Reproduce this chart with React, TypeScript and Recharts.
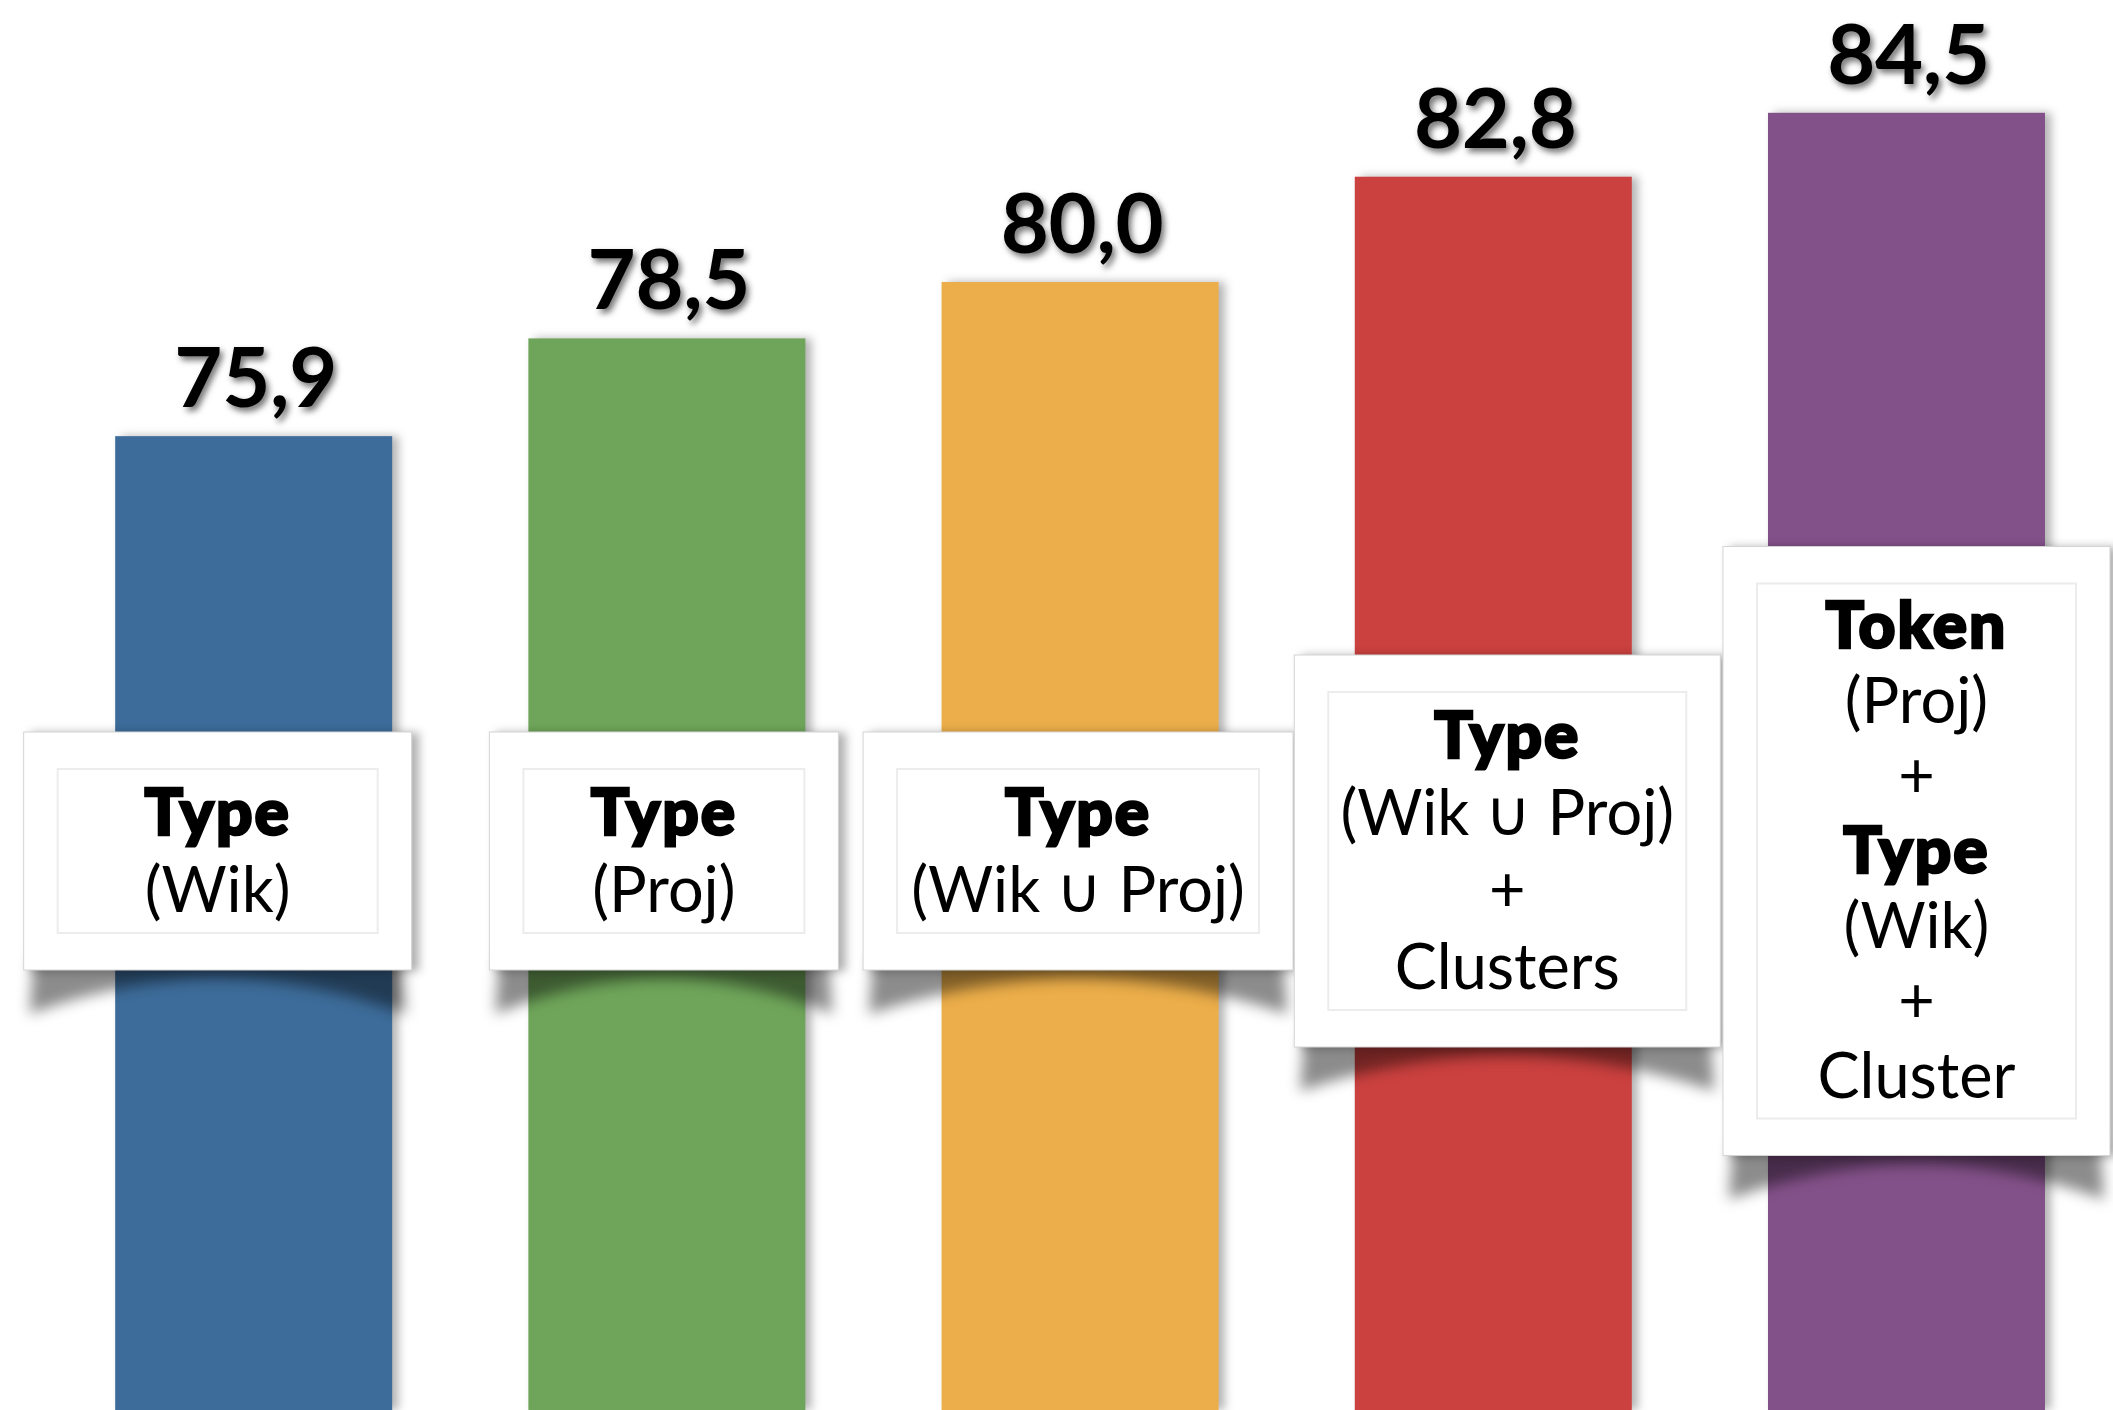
import React from 'react'
import { BarChart, Bar, XAxis, YAxis, Cell, LabelList } from 'recharts'

// values
const categories = ['Type (Wik)', 'Type (Proj)', 'Type (Wik ∪ Proj)', 'Type (Wik ∪ Proj) + Clusters', 'Token (Proj) + Type (Wik) + Cluster']
const scores = [75.9, 78.5, 80.0, 82.8, 84.5]

// caption lines for each bar, bold marks the feature kind
const captions: { text: string; bold?: boolean }[][] = [
  [{ text: 'Type', bold: true }, { text: '(Wik)' }],
  [{ text: 'Type', bold: true }, { text: '(Proj)' }],
  [{ text: 'Type', bold: true }, { text: '(Wik ∪ Proj)' }],
  [{ text: 'Type', bold: true }, { text: '(Wik ∪ Proj)' }, { text: '+' }, { text: 'Clusters' }],
  [
    { text: 'Token', bold: true },
    { text: '(Proj)' },
    { text: '+' },
    { text: 'Type', bold: true },
    { text: '(Wik)' },
    { text: '+' },
    { text: 'Cluster' },
  ],
]

const COLORS = ['#3d6c9a', '#6fa55a', '#ecae4a', '#cb413f', '#835189']

// caption card layout (px)
const CARD_W = [388, 349, 430, 426, 387]
const CARD_DX = [-36, -3, -2, 14, 10]
const CARD_CY = 851
const FONT = 'Lato, "Open Sans", sans-serif'

const data = categories.map((name, i) => ({ name, score: scores[i] }))

function pick(props: any) {
  const vb = props.viewBox || {}
  return {
    x: Number(props.x ?? vb.x ?? 0),
    y: Number(props.y ?? vb.y ?? 0),
    width: Number(props.width ?? vb.width ?? 0),
    index: Number(props.index ?? 0),
    value: props.value,
  }
}

function ValueLabel(props: any) {
  const { x, y, width, value } = pick(props)
  return (
    <text
      x={x + width / 2 + 2}
      y={y - 29}
      textAnchor="middle"
      fontFamily={FONT}
      fontWeight={700}
      fontSize={83}
      letterSpacing={-0.3}
      fill="#000"
      style={{ filter: 'drop-shadow(3px 4px 3px rgba(0,0,0,0.55))' }}
    >
      {Number(value).toFixed(1).replace('.', ',')}
    </text>
  )
}

function CaptionCard(props: any) {
  const { x, width, index } = pick(props)
  const lines = captions[index] || []
  const lh = lines.length > 4 ? 75 : 77
  const h = lines.length * lh + 84
  const w = CARD_W[index]
  const cx = x + width / 2 + CARD_DX[index]
  const left = cx - w / 2
  const top = CARD_CY - h / 2
  const bottom = top + h
  const firstY = CARD_CY - ((lines.length - 1) * lh) / 2
  return (
    <g>
      {/* curled shadow under the card */}
      <path
        d={`M ${left + 10} ${bottom - 12} L ${left + w - 10} ${bottom - 12} L ${left + w - 6} ${bottom + 44} Q ${cx} ${bottom - 26} ${left + 6} ${bottom + 44} Z`}
        fill="rgba(0,0,0,0.45)"
        style={{ filter: 'blur(7px)' }}
      />
      <rect
        x={left}
        y={top}
        width={w}
        height={h}
        fill="#fff"
        stroke="#d4d4d4"
        strokeWidth={1}
        style={{ filter: 'drop-shadow(7px 1px 5px rgba(0,0,0,0.3))' }}
      />
      <rect x={left + 34} y={top + 37} width={w - 68} height={h - 74} fill="#fff" stroke="#ececec" strokeWidth={2} />
      {lines.map((ln, i) => (
        <text
          key={i}
          x={cx}
          y={firstY + i * lh + 22}
          textAnchor="middle"
          fontFamily={FONT}
          fontWeight={ln.bold ? 900 : 400}
          fontSize={ln.bold ? 64 : 63}
          letterSpacing={ln.bold ? 2 : 0}
          stroke={ln.bold ? '#000' : 'none'}
          strokeWidth={ln.bold ? 2.6 : 0}
          fill="#000"
        >
          {ln.text}
        </text>
      ))}
    </g>
  )
}

export default function App() {
  return (
    <div style={{ position: 'absolute', left: 0, top: 0, width: 2113, height: 1410, background: '#fff', overflow: 'hidden' }}>
      <BarChart width={2113} height={1410} data={data} margin={{ top: 0, right: 0, left: 47, bottom: 0 }} barCategoryGap="16.5%">
        <XAxis dataKey="name" hide />
        <YAxis hide domain={[50, 87.5]} allowDataOverflow />
        <Bar
          dataKey="score"
          isAnimationActive={false}
          shape={(p: any) => (
            <rect
              x={p.x}
              y={p.y}
              width={p.width}
              height={p.height}
              fill={p.fill}
              style={{ filter: 'drop-shadow(6px 0px 5px rgba(0,0,0,0.3))' }}
            />
          )}
        >
          {data.map((d, i) => (
            <Cell key={d.name} fill={COLORS[i]} />
          ))}
          <LabelList dataKey="score" content={ValueLabel} />
          <LabelList dataKey="score" content={CaptionCard} />
        </Bar>
      </BarChart>
    </div>
  )
}
